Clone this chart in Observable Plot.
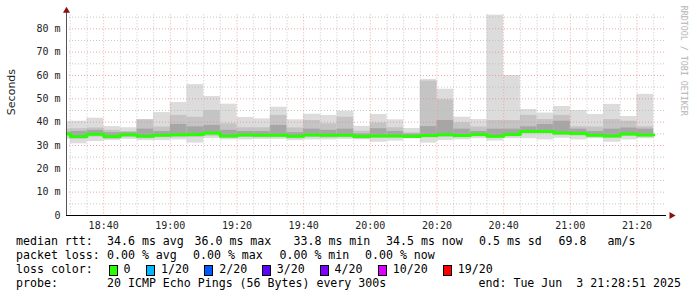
<!DOCTYPE html>
<html>
<head>
<meta charset="utf-8">
<script src="https://cdn.jsdelivr.net/npm/d3@7"></script>
<script src="https://cdn.jsdelivr.net/npm/@observablehq/plot@0.6"></script>
<style>
  html, body { margin: 0; padding: 0; background: #fff; }
  #wrap { position: relative; width: 697px; height: 297px; background: #fff; overflow: hidden; }
  #wrap svg { display: block; }
  .lg { position: absolute; font-family: "DejaVu Sans Mono", monospace; font-size: 11.6px; line-height: 14px; color: #000; white-space: pre; }
  .box { position: absolute; width: 7px; height: 9px; border: 1px solid #000; }
</style>
</head>
<body>
<div id="wrap"></div>
<script>
// ---- data (5-minute bins, times in HH:MM, values in ms) ----
const binStart = ["18:25","18:30","18:35","18:40","18:45","18:50","18:55","19:00","19:05","19:10","19:15","19:20","19:25","19:30","19:35","19:40","19:45","19:50","19:55","20:00","20:05","20:10","20:15","20:20","20:25","20:30","20:35","20:40","20:45","20:50","20:55","21:00","21:05","21:10","21:15","21:20"];
const rttMin    = [32.5,30.7,31.7,32.1,32.6,32.1,32.1,32.4,31.0,33.0,32.4,32.4,32.6,32.6,32.1,32.4,32.4,32.6,32.4,31.4,31.9,32.9,31.0,32.1,32.4,32.9,31.9,32.9,32.9,32.4,33.1,32.4,32.9,31.4,32.4,32.9];
const rttP10    = [33.8,32.6,33.6,32.6,33.4,32.9,33.3,33.4,33.4,34.0,33.0,33.4,33.3,33.4,32.9,33.4,33.2,33.4,32.8,33.1,33.1,33.0,33.3,33.6,33.3,33.7,33.0,33.7,35.0,35.0,34.4,34.1,33.4,33.1,33.9,33.5];
const rttP25    = [34.4,33.1,34.2,33.1,33.9,33.4,33.8,33.9,34.1,34.6,33.5,33.9,33.8,33.8,33.4,33.9,33.7,33.8,33.1,33.6,33.6,33.3,33.8,34.1,33.8,34.2,33.4,34.2,35.5,35.5,34.8,34.6,33.9,33.6,34.4,34.0];
const rttMedian = [35.0,33.8,34.8,33.8,34.6,34.0,34.4,34.6,34.7,35.3,34.1,34.5,34.4,34.4,34.0,34.5,34.4,34.4,33.8,34.1,34.1,33.9,34.3,34.6,34.3,34.7,34.0,34.7,36.0,36.0,35.4,35.1,34.4,34.1,34.9,34.5];
const rttP75    = [35.5,36.0,36.5,35.5,35.5,37.0,36.0,39.0,38.0,38.6,36.5,36.0,36.0,38.6,35.5,37.0,36.5,37.0,35.0,37.2,36.0,34.9,38.1,40.7,37.0,36.0,37.0,37.0,38.0,39.0,40.4,37.0,36.0,37.0,37.5,37.0];
const rttP90    = [37.0,37.2,37.5,36.5,36.0,41.0,37.9,42.9,42.1,45.0,39.3,37.6,37.6,42.9,37.5,40.7,39.3,42.1,36.1,39.6,37.6,35.4,57.6,49.6,39.7,37.9,40.7,40.7,42.9,41.1,42.9,38.0,37.9,41.1,40.4,38.0];
const rttMax    = [40.3,40.4,41.7,38.1,37.6,41.1,44.1,48.4,56.1,51.0,47.7,42.0,41.4,46.4,41.0,43.4,42.9,44.7,38.2,43.3,41.0,37.3,58.3,54.1,42.1,41.1,85.9,60.0,45.4,43.9,46.7,45.0,43.3,47.6,42.4,51.9];

const yTicks = [0,10,20,30,40,50,60,70,80];
const xTickLabels = ["18:40","19:00","19:20","19:40","20:00","20:20","20:40","21:00","21:20"];

const statsLine1 = ["median rtt:","34.6 ms avg","36.0 ms max","33.8 ms min","34.5 ms now","0.5 ms sd","69.8","am/s"];
const statsLine2 = ["packet loss:","0.00 % avg","0.00 % max","0.00 % min","0.00 % now"];
const lossLabels = ["0","1/20","2/20","3/20","4/20","10/20","19/20"];
const lossColors = ["#26ff00","#00b8ff","#0059ff","#5e00ff","#7e00ff","#dd00ff","#ff0000"];
const probeText = ["probe:","20 ICMP Echo Pings (56 Bytes) every 300s","end: Tue Jun  3 21:28:51 2025"];

// ---- build ----
const day = (h, m, s = 0) => new Date(Date.UTC(2025, 5, 3, h, m, s));
const parseT = s => day(+s.slice(0, 2), +s.slice(3, 5));
const STEP = 5 * 60 * 1000;
const tEnd = day(21, 28, 51);
const tStart = new Date(tEnd.getTime() - 3 * 3600 * 1000);

const rows = binStart.map((s, i) => {
  const a = parseT(s);
  return {x1: a, x2: new Date(a.getTime() + STEP), min: rttMin[i], p10: rttP10[i], p25: rttP25[i],
          med: rttMedian[i], p75: rttP75[i], p90: rttP90[i], max: rttMax[i]};
});
const medPts = rows.map(r => ({x: r.x1, y: r.med}));
medPts.push({x: rows[rows.length - 1].x2, y: rows[rows.length - 1].med});

const majorX = xTickLabels.map(parseT);
const allX = d3.utcMinute.every(5).range(tStart, tEnd);
const minorX = allX.filter(d => d.getUTCMinutes() % 20 !== 0);
const minorY = d3.range(5, 90, 10);
const majorY = yTicks.filter(d => d > 0);

const fmt = d3.utcFormat("%H:%M");
const MONO = "DejaVu Sans Mono";

const chart = Plot.plot({
  width: 697,
  height: 232,
  marginLeft: 66,
  marginRight: 31,
  marginTop: 14.3,
  marginBottom: 17,
  style: {background: "#fff", fontFamily: MONO, overflow: "visible"},
  x: {type: "utc", domain: [tStart, tEnd]},
  y: {domain: [0, 86]},
  marks: [
    Plot.rect(rows, {x1: "x1", x2: "x2", y1: "min", y2: "max", fill: "#dcdcdc", clip: true}),
    Plot.rect(rows, {x1: "x1", x2: "x2", y1: "p10", y2: "p90", fill: "#c4c4c4", clip: true}),
    Plot.rect(rows, {x1: "x1", x2: "x2", y1: "p25", y2: "p75", fill: "#a6a6a6", clip: true}),
    Plot.ruleY(minorY, {stroke: "#bababa", strokeOpacity: 0.8, strokeDasharray: "1,2"}),
    Plot.ruleY(majorY, {stroke: "#f08080", strokeOpacity: 0.7, strokeDasharray: "1,2"}),
    Plot.ruleX(minorX, {stroke: "#bababa", strokeOpacity: 0.8, strokeDasharray: "1,2"}),
    Plot.ruleX(majorX, {stroke: "#f08080", strokeOpacity: 0.7, strokeDasharray: "1,2"}),
    Plot.line(medPts, {x: "x", y: "y", curve: "step-after", stroke: "#26ff00", strokeWidth: 3, clip: true}),
    Plot.ruleY([0], {stroke: "#000", strokeWidth: 1}),
    Plot.ruleX([tStart], {y1: 0, y2: 87.5, stroke: "#555", strokeWidth: 1}),
    Plot.dot([0], {x: () => tStart, y: () => 86, dy: -4, symbol: "triangle", r: 2.6, fill: "#8b1010", stroke: "none"}),
    Plot.dot([0], {x: () => tEnd, y: () => 0, dx: 5, symbol: "triangle", rotate: 90, r: 2.6, fill: "#8b1010", stroke: "none"}),
    Plot.axisY({ticks: yTicks, tickFormat: d => d === 0 ? "0" : `${d} m`, tickSize: 0, tickPadding: 6,
                fontSize: 10, fontFamily: MONO, fill: "#222", label: null}),
    Plot.axisX({ticks: majorX, tickFormat: fmt, tickSize: 0, tickPadding: 6,
                fontSize: 10, fontFamily: MONO, fill: "#222", label: null}),
    Plot.text(["Seconds"], {frameAnchor: "left", dx: -55, rotate: -90, fontSize: 11,
                fontFamily: "DejaVu Sans", fill: "#222"}),
    Plot.text(["RRDTOOL / TOBI OETIKER"], {frameAnchor: "top-right", dx: 20, dy: -9, rotate: 90,
                textAnchor: "start", fontSize: 8.3, fontFamily: MONO, fill: "#b4b4b4"})
  ]
});

const wrap = document.getElementById("wrap");
wrap.appendChild(chart);

// ---- legend (below the svg) ----
const lineTop = [234, 248, 262, 276];
function addText(x, top, txt) {
  const d = document.createElement("div");
  d.className = "lg";
  d.style.left = x + "px";
  d.style.top = top + "px";
  d.textContent = txt;
  wrap.appendChild(d);
}
const l1x = [16, 107, 194.5, 293.5, 386, 479, 558.5, 607.5];
statsLine1.forEach((t, i) => addText(l1x[i], lineTop[0], t));
const l2x = [16, 107, 193, 279.5, 365];
statsLine2.forEach((t, i) => addText(l2x[i], lineTop[1], t));
addText(16, lineTop[2], "loss color:");
const boxX = [108.6, 146, 204.3, 261.7, 319.5, 377.8, 442.8];
lossLabels.forEach((lab, i) => {
  const b = document.createElement("div");
  b.className = "box";
  b.style.left = boxX[i] + "px";
  b.style.top = (lineTop[2] + 3) + "px";
  b.style.background = lossColors[i];
  wrap.appendChild(b);
  addText(boxX[i] + 15, lineTop[2], lab);
});
const l4x = [16, 107, 478.5];
probeText.forEach((t, i) => addText(l4x[i], lineTop[3], t));
</script>
</body>
</html>
